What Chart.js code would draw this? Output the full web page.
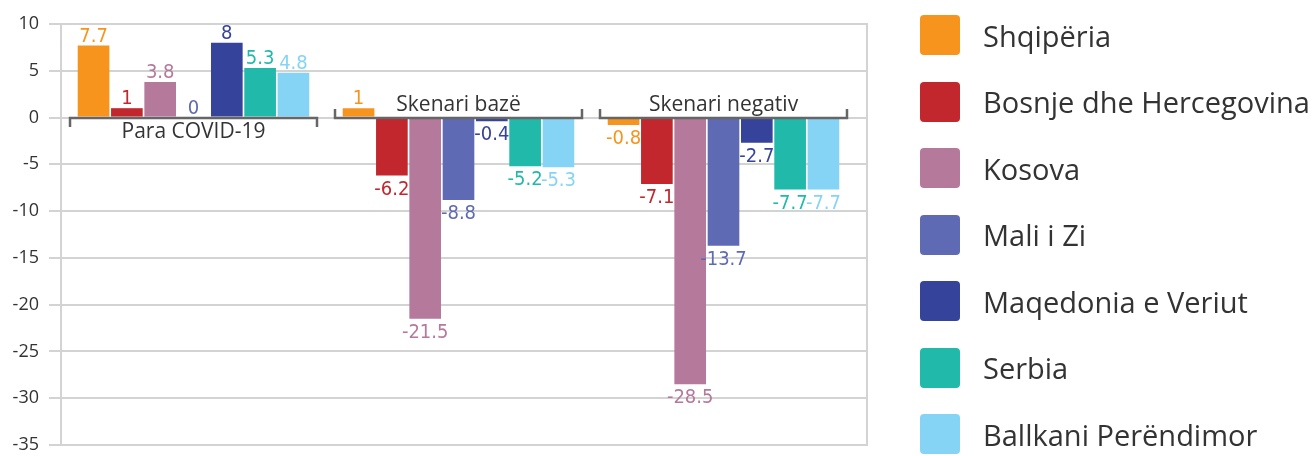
<!DOCTYPE html>
<html>
<head>
<meta charset="utf-8">
<script src="https://cdn.jsdelivr.net/npm/chart.js@4.4.1/dist/chart.umd.min.js"></script>
<style>
  html, body { margin: 0; padding: 0; background: #fff; overflow: hidden; }
  #wrap { position: relative; width: 1315px; height: 456px; }
  #chart { position: absolute; left: 0; top: 0; }
  #legend { position: absolute; left: 920px; top: 15px; font-family: "Open Sans", sans-serif; font-size: 29px; color: #333; }
  .item { display: flex; align-items: center; height: 40px; margin-bottom: 26.5px; white-space: nowrap; }
  .sw { width: 40px; height: 40px; border-radius: 4px; margin-right: 23px; flex: none; }
</style>
</head>
<body>
<div id="wrap"><canvas id="chart" width="1315" height="456"></canvas><div id="legend"></div></div>
<script>
const categories = ["Para COVID-19", "Skenari bazë", "Skenari negativ"];
const countries = ["Shqipëria", "Bosnje dhe Hercegovina", "Kosova", "Mali i Zi", "Maqedonia e Veriut", "Serbia", "Ballkani Perëndimor"];
const colors = ["#F7941D", "#C1272D", "#B5799B", "#5E6AB3", "#36439A", "#21B9AA", "#86D4F5"];

const shqiperia = [7.7, 1, -0.8];
const bosnje = [1, -6.2, -7.1];
const kosova = [3.8, -21.5, -28.5];
const maliZi = [0, -8.8, -13.7];
const maqedonia = [8, -0.4, -2.7];
const serbia = [5.3, -5.2, -7.7];
const ballkani = [4.8, -5.3, -7.7];
const series = [shqiperia, bosnje, kosova, maliZi, maqedonia, serbia, ballkani];

const yMin = -35, yMax = 10, yStep = 5;

const gridColor = "#d3d3d3";
const plotRight = 867;
const labelFont = "20px 'Liberation Sans Narrow', 'DejaVu Sans Condensed', sans-serif";

// extra pieces: grid up to the right frame, brackets at zero, value labels
const decor = {
  id: "decor",
  beforeDatasetsDraw(chart) {
    const { ctx, chartArea: a, scales: { y } } = chart;
    ctx.save();
    ctx.strokeStyle = gridColor;
    ctx.lineWidth = 2;
    y.ticks.forEach(t => {
      const py = Math.round(y.getPixelForValue(t.value));
      ctx.beginPath();
      ctx.moveTo(a.right - 1, py);
      ctx.lineTo(plotRight, py);
      ctx.stroke();
    });
    ctx.beginPath();
    ctx.moveTo(plotRight, Math.round(y.getPixelForValue(yMax)) - 1);
    ctx.lineTo(plotRight, Math.round(y.getPixelForValue(yMin)) + 1);
    ctx.stroke();
    ctx.restore();
  },
  afterDatasetsDraw(chart) {
    const { ctx, scales: { x, y } } = chart;
    const y0 = Math.round(y.getPixelForValue(0));
    const catW = x.width / categories.length;
    ctx.save();

    // category brackets on the zero line
    categories.forEach((c, i) => {
      const cx = x.getPixelForValue(i);
      const half = catW * 0.466;
      const sum = series.reduce((s, d) => s + d[i], 0);
      const dir = sum >= 0 ? 1 : -1;
      ctx.strokeStyle = "#666";
      ctx.lineWidth = 2.5;
      ctx.beginPath();
      ctx.moveTo(cx - half, y0 + dir * 9);
      ctx.lineTo(cx - half, y0);
      ctx.lineTo(cx + half, y0);
      ctx.lineTo(cx + half, y0 + dir * 9);
      ctx.stroke();
      ctx.fillStyle = "#333";
      ctx.font = "21px 'Open Sans', sans-serif";
      ctx.textAlign = "center";
      ctx.textBaseline = "alphabetic";
      ctx.fillText(c, cx, dir > 0 ? y0 + 20 : y0 - 7);
    });

    // value labels
    ctx.font = labelFont;
    ctx.textAlign = "center";
    ctx.textBaseline = "alphabetic";
    chart.data.datasets.forEach((ds, di) => {
      const meta = chart.getDatasetMeta(di);
      meta.data.forEach((el, j) => {
        const v = ds.data[j];
        ctx.fillStyle = colors[di];
        ctx.fillText(String(v), el.x, v >= 0 ? el.y - 4 : el.y + 19);
      });
    });
    ctx.restore();
  }
};

new Chart(document.getElementById("chart"), {
  type: "bar",
  data: {
    labels: categories,
    datasets: countries.map((name, i) => ({
      label: name,
      data: series[i],
      backgroundColor: colors[i],
      borderWidth: 0,
      barPercentage: 0.95,
      categoryPercentage: 0.88
    }))
  },
  options: {
    responsive: false,
    animation: false,
    layout: { padding: { left: 0, right: 1315 - 856, top: 24, bottom: 11 } },
    plugins: { legend: { display: false }, tooltip: { enabled: false } },
    scales: {
      x: { display: false },
      y: {
        min: yMin,
        max: yMax,
        ticks: { stepSize: yStep, color: "#333", font: { family: "'Open Sans', sans-serif", size: 18, lineHeight: 1 }, padding: 10 },
        grid: { color: gridColor, lineWidth: 2, tickLength: 12 },
        border: { display: true, color: gridColor, width: 2 },
        afterFit(scale) {
          scale.width = 61;
          scale.paddingTop = 9;
          scale.paddingBottom = 9;
        }
      }
    }
  },
  plugins: [decor]
});

// legend built from the same series
const legend = document.getElementById("legend");
countries.forEach((name, i) => {
  const item = document.createElement("div");
  item.className = "item";
  item.innerHTML = '<span class="sw" style="background:' + colors[i] + '"></span><span>' + name + "</span>";
  legend.appendChild(item);
});
</script>
</body>
</html>
